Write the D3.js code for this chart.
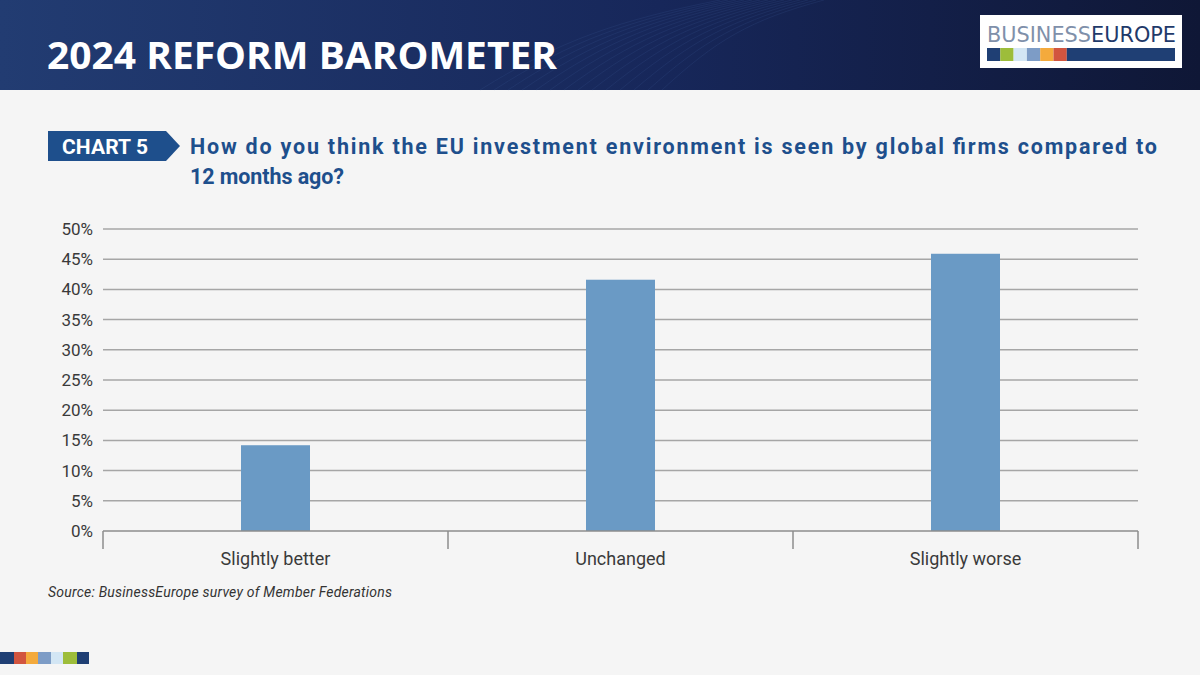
<!DOCTYPE html>
<html>
<head>
<meta charset="utf-8">
<script src="https://cdn.jsdelivr.net/npm/d3@7"></script>
<style>
  html, body { margin: 0; padding: 0; background: #f5f5f5; }
  svg { display: block; }
</style>
</head>
<body>
<svg id="chart" width="1200" height="675"></svg>
<script>
const categories = ['Slightly better', 'Unchanged', 'Slightly worse']
const shares = [14.2, 41.6, 45.9]
const yTicks = [0, 5, 10, 15, 20, 25, 30, 35, 40, 45, 50]
const logoColors = ['#1f3f74', '#9dbd3a', '#d3e6f4', '#7d9cc6', '#f4aa3c', '#d2553f']
const footerColors = ['#1f3f74', '#d2553f', '#f4aa3c', '#7d9cc6', '#d3e6f4', '#9dbd3a', '#1f3f74']

const width = 1200
const height = 675
const margin = { top: 229, right: 62, bottom: 144, left: 103 }

const svg = d3.select('#chart')

// header band
const defs = svg.append('defs')
const grad = defs.append('linearGradient').attr('id', 'head').attr('x1', 0).attr('x2', 1).attr('y1', 0).attr('y2', 0)
grad.append('stop').attr('offset', '0%').attr('stop-color', '#223c72')
grad.append('stop').attr('offset', '55%').attr('stop-color', '#17275a')
grad.append('stop').attr('offset', '100%').attr('stop-color', '#0f1736')

svg.append('rect').attr('width', width).attr('height', height).attr('fill', '#f5f5f5')
svg.append('rect').attr('width', width).attr('height', 90).attr('fill', 'url(#head)')

// faint texture lines on header
const tex = svg.append('g').attr('stroke', '#3a5a94').attr('stroke-opacity', 0.2).attr('fill', 'none')
d3.range(0, 14).forEach(function(i) {
  tex.append('path')
    .attr('d', 'M' + (480 + i * 14) + ',90 C' + (560 + i * 12) + ',40 ' + (620 + i * 10) + ',20 ' + (720 + i * 8) + ',0')
})

svg.append('text')
  .attr('x', 47).attr('y', 69)
  .attr('fill', '#ffffff')
  .attr('font-family', 'Open Sans, sans-serif')
  .attr('font-weight', 700)
  .attr('font-size', 38)
  .attr('textLength', 510)
  .attr('lengthAdjust', 'spacingAndGlyphs')
  .text('2024 REFORM BAROMETER')

// logo
const logo = svg.append('g').attr('transform', 'translate(980,15)')
logo.append('rect').attr('width', 202).attr('height', 53).attr('fill', '#ffffff')
const logoText = logo.append('text')
  .attr('x', 7).attr('y', 27)
  .attr('font-family', 'DejaVu Sans, sans-serif')
  .attr('font-size', 21)
  .attr('textLength', 189)
  .attr('lengthAdjust', 'spacingAndGlyphs')
logoText.append('tspan').attr('fill', '#7f90aa').text('BUSINESS')
logoText.append('tspan').attr('fill', '#1f3a6a').text('EUROPE')
logoColors.forEach(function(c, i) {
  logo.append('rect').attr('x', 7 + i * 13.3).attr('y', 33).attr('width', 13.3).attr('height', 13).attr('fill', c)
})
logo.append('rect').attr('x', 7 + 6 * 13.3).attr('y', 33).attr('width', 195 - 7 - 6 * 13.3).attr('height', 13).attr('fill', '#1f3f74')

// chart label
svg.append('path')
  .attr('d', 'M48,131 L166,131 L180,146 L166,161 L48,161 Z')
  .attr('fill', '#1e4f8c')
svg.append('text')
  .attr('x', 62).attr('y', 154)
  .attr('fill', '#ffffff')
  .attr('font-family', 'Roboto, sans-serif')
  .attr('font-weight', 700)
  .attr('font-size', 21)
  .attr('textLength', 86)
  .text('CHART 5')

const q = svg.append('text')
  .attr('fill', '#1e4f8c')
  .attr('font-family', 'Roboto, sans-serif')
  .attr('font-weight', 700)
  .attr('font-size', 21.5)
q.append('tspan').attr('x', 190).attr('y', 154).attr('textLength', 967)
  .text('How do you think the EU investment environment is seen by global firms compared to')
q.append('tspan').attr('x', 190).attr('y', 184).attr('textLength', 154).text('12 months ago?')

// scales
const x = d3.scaleBand()
  .domain(categories)
  .range([margin.left, width - margin.right])
  .paddingInner(0.8)
  .paddingOuter(0.4)

const y = d3.scaleLinear()
  .domain([0, 50])
  .range([height - margin.bottom, margin.top])

const g = svg.append('g')

// gridlines
g.selectAll('.grid')
  .data(yTicks.filter(function(d) { return d > 0 }))
  .enter().append('line')
    .attr('x1', margin.left).attr('x2', width - margin.right)
    .attr('y1', function(d) { return y(d) }).attr('y2', function(d) { return y(d) })
    .attr('stroke', '#a6a6a6').attr('stroke-width', 1.5)

// y labels
g.selectAll('.ylab')
  .data(yTicks)
  .enter().append('text')
    .attr('x', 93)
    .attr('y', function(d) { return y(d) })
    .attr('dy', '0.35em')
    .attr('text-anchor', 'end')
    .attr('fill', '#3a3a3a')
    .attr('font-family', 'Roboto, sans-serif')
    .attr('font-size', 17)
    .text(function(d) { return d + '%' })

// bars
g.selectAll('.bar')
  .data(shares)
  .enter().append('rect')
    .attr('x', function(d, i) { return x(categories[i]) })
    .attr('width', x.bandwidth())
    .attr('y', function(d) { return y(d) })
    .attr('height', function(d) { return y(0) - y(d) })
    .attr('fill', '#6a9ac5')

// x axis with category separators
const step = (width - margin.right - margin.left) / categories.length
const xAxis = g.append('g').attr('stroke', '#8c8c8c').attr('stroke-width', 1.5)
xAxis.append('line')
  .attr('x1', margin.left).attr('x2', width - margin.right)
  .attr('y1', y(0)).attr('y2', y(0))
d3.range(categories.length + 1).forEach(function(i) {
  xAxis.append('line')
    .attr('x1', margin.left + i * step).attr('x2', margin.left + i * step)
    .attr('y1', y(0)).attr('y2', y(0) + 18)
})

g.selectAll('.xlab')
  .data(categories)
  .enter().append('text')
    .attr('x', function(d) { return x(d) + x.bandwidth() / 2 })
    .attr('y', y(0) + 28)
    .attr('dy', '0.35em')
    .attr('text-anchor', 'middle')
    .attr('fill', '#3a3a3a')
    .attr('font-family', 'Roboto, sans-serif')
    .attr('font-size', 18)
    .text(function(d) { return d })

// source
svg.append('text')
  .attr('x', 48).attr('y', 597)
  .attr('fill', '#333333')
  .attr('font-family', 'Roboto, sans-serif')
  .attr('font-style', 'italic')
  .attr('font-size', 14)
  .attr('textLength', 344)
  .text('Source: BusinessEurope survey of Member Federations')

// footer squares
const sq = [0, 14, 26, 38, 51, 63, 77, 89]
footerColors.forEach(function(c, i) {
  svg.append('rect')
    .attr('x', sq[i]).attr('y', 652)
    .attr('width', sq[i + 1] - sq[i]).attr('height', 12)
    .attr('fill', c)
})
</script>
</body>
</html>
